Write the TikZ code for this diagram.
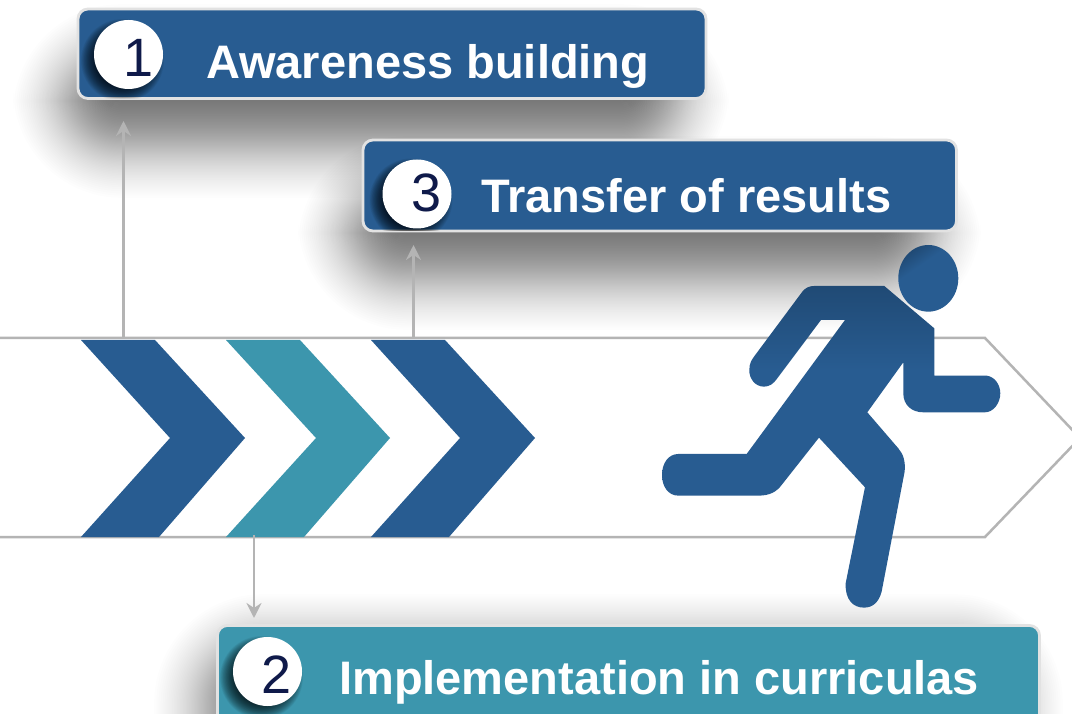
\documentclass[tikz,border=0pt]{standalone}
\usepackage{fontspec}
\setmainfont{Liberation Sans}
\usetikzlibrary{arrows.meta}
\definecolor{mainblue}{HTML}{285C91}
\definecolor{darkblue}{HTML}{204A75}
\definecolor{mainteal}{HTML}{3C96AD}
\definecolor{navydigit}{HTML}{0F1A4A}
\definecolor{linegrey}{HTML}{B4B4B4}
\definecolor{rimgrey}{HTML}{E2E2E2}
\pgfdeclareverticalshading{runnershade}{100bp}{color(0bp)=(mainblue); color(62bp)=(mainblue); color(75bp)=(darkblue); color(100bp)=(darkblue)}
\newcommand{\softshad}[5]{% x1 y1 x2 y2 blur
  \foreach \st in {1,...,70}{
    \pgfmathsetmacro{\uu}{1-2*(\st-0.5)/70}
    \pgfmathsetmacro{\dd}{#5*(0.72*\uu+0.28*\uu*\uu*\uu)}
    \pgfmathsetmacro{\rr}{#5+\dd+6}
    \fill[black,fill opacity=0.0082,rounded corners=\rr pt] (#1-\dd,#2-\dd) rectangle (#3+\dd,#4+\dd);
  }}
\newcommand{\softdisc}[3]{% x y r
  \foreach \st in {1,...,24}{
    \pgfmathsetmacro{\rr}{#3+7-(\st-1)*0.6}
    \fill[black,fill opacity=0.045] (#1,#2) circle[radius=\rr pt];
  }}
\tikzset{
  barbox/.style={draw=rimgrey,line width=2.8pt,rounded corners=10pt,inner sep=0pt,outer sep=0pt,anchor=north west},
  badge/.style={circle,fill=white,inner sep=0pt,outer sep=0pt,minimum size=69pt},
  digit/.style={text=navydigit,font=\fontsize{54}{54}\selectfont,inner sep=0pt,anchor=base},
  title/.style={text=white,font=\bfseries\fontsize{47}{47}\selectfont,inner sep=0pt,anchor=base west},
  chev/.style={fill=#1},
  connector/.style={draw=linegrey,line width=2.5pt,-{Stealth[length=15pt,width=15pt,inset=5pt]}},
  outline/.style={draw=linegrey,line width=2.5pt,line join=miter}
}
\begin{document}
\begin{tikzpicture}[x=1pt,y=-1pt]
\useasboundingbox (0,0) rectangle (1072,714);
\clip (0,0) rectangle (1072,714);
\fill[white] (0,0) rectangle (1072,714);
% soft shadows
\softshad{64}{55}{678}{147}{52}
\softshad{349}{187}{930}{279}{52}
\softshad{205}{645}{1012}{800}{52}
% long arrow outline
\draw[outline] (-5,338) -- (985,338) -- (1080,438) -- (985,537) -- (-5,537);
% chevrons
\fill[chev=mainblue] (81,340) -- (155,340) -- (245,438) -- (159,537) -- (81,537) -- (170,438) -- cycle;
\fill[chev=mainteal] (226,340) -- (300,340) -- (390,438) -- (304,537) -- (226,537) -- (316,438) -- cycle;
\fill[chev=mainblue] (371,340) -- (445,340) -- (535,438) -- (449,537) -- (371,537) -- (460,438) -- cycle;
% title bars
\node[barbox,fill=mainblue,minimum width=628pt,minimum height=89.5pt] (bar1) at (78,9) {};
\node[barbox,fill=mainblue,minimum width=593.5pt,minimum height=91pt] (bar3) at (363,140) {};
\node[barbox,fill=mainteal,minimum width=822pt,minimum height=110pt] (bar2) at (217.5,625.5) {};
% badge shadows, kept inside their bars
\begin{scope}
\clip[rounded corners=10pt] (bar1.north west) rectangle (bar1.south east);
\softdisc{122.5}{60.5}{34.5}
\end{scope}
\begin{scope}
\clip[rounded corners=10pt] (bar3.north west) rectangle (bar3.south east);
\softdisc{411}{200}{34.5}
\end{scope}
\begin{scope}
\clip[rounded corners=10pt] (bar2.north west) rectangle (bar2.south east);
\softdisc{261.5}{677.5}{34.5}
\end{scope}
\node[badge] (badge1) at (128.5,54.5) {};
\node[badge] (badge3) at (417,194) {};
\node[badge] (badge2) at (267.5,671.5) {};
\node[digit] (num1) at (138.5,77) {1};
\node[digit] (num3) at (426.5,212) {3};
\node[digit] (num2) at (276.5,693) {2};
\node[title] (text1) at (206,78.5) {Awareness building};
\node[title] (text3) at (481,212.5) {Transfer of results};
\node[title] (text2) at (339,694) {Implementation in curriculas};
% connectors
\coordinate (from1) at (123.5,338);
\coordinate (to1) at (123.5,121);
\coordinate (from3) at (413.5,338);
\coordinate (to3) at (413.5,245);
\coordinate (from2) at (254,535);
\coordinate (to2) at (254,618);
\draw[connector] (from1) -- (to1);
\draw[connector] (from3) -- (to3);
\draw[connector] (from2) -- (to2);
% runner
\begin{scope}[shift={(640,230)},x=0.3333pt,y=-0.3333pt]
\shade[shading=runnershade,shading angle=35] (865,145) ellipse[x radius=90,y radius=100];
\shade[shading=runnershade]
  (733,168) -- (883,295) -- (883,437) -- (1040,437)
  .. controls (1065,440) and (1081,465) .. (1081,490)
  .. controls (1081,520) and (1060,547) .. (1035,547)
  -- (850,547) .. controls (815,547) and (790,525) .. (790,490)
  -- (790,397) -- (682,547) -- (775,655)
  .. controls (790,672) and (797,695) .. (794,725)
  -- (725,1085) .. controls (717,1115) and (700,1133) .. (672,1133)
  .. controls (640,1133) and (615,1110) .. (617,1060)
  -- (675,772) -- (537,623) -- (425,765)
  .. controls (410,785) and (390,797) .. (355,797)
  -- (115,797) .. controls (85,797) and (66,770) .. (66,735)
  .. controls (66,700) and (85,672) .. (115,672)
  -- (320,672) -- (615,270) -- (543,270) -- (412,445)
  .. controls (400,462) and (388,470) .. (372,470)
  .. controls (345,470) and (327,445) .. (328,420)
  .. controls (328,400) and (335,390) .. (342,380)
  -- (487,185) .. controls (497,173) and (508,168) .. (522,168) -- cycle;
\end{scope}
\end{tikzpicture}
\end{document}
